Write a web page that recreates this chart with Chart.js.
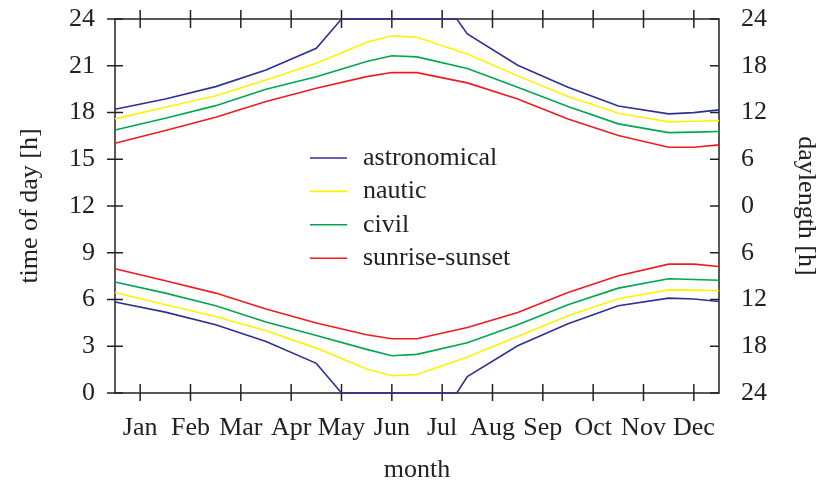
<!DOCTYPE html>
<html>
<head>
<meta charset="utf-8">
<script src="https://cdn.jsdelivr.net/npm/chart.js@4"></script>
<style>
  html, body { margin: 0; padding: 0; background: #fff; }
  #wrap { width: 821px; height: 484px; }
</style>
</head>
<body>
<div id="wrap"><canvas id="twilightChart" width="821" height="484"></canvas></div>
<script>
// month ticks (x = 1..12), samples at mid-month plus the solstices
const monthLabels = ['Jan','Feb','Mar','Apr','May','Jun','Jul','Aug','Sep','Oct','Nov','Dec'];
const rightTickLabels = ['24','18','12','6','0','6','12','18','24'];
const sampleX = [0.5,1.5,2.5,3.5,4.5,5.5,6.0,6.5,7.5,8.5,9.5,10.5,11.5,12.0,12.5];

const sunsetEvening  = [16.03,16.84,17.70,18.70,19.56,20.30,20.57,20.56,19.90,18.87,17.59,16.52,15.77,15.77,15.92];
const sunsetMorning  = [7.97,7.20,6.41,5.39,4.49,3.74,3.48,3.48,4.20,5.17,6.45,7.52,8.27,8.27,8.12];
const civilEvening   = [16.88,17.63,18.44,19.49,20.30,21.27,21.64,21.57,20.82,19.62,18.38,17.27,16.71,16.74,16.78];
const civilMorning   = [7.12,6.41,5.60,4.55,3.69,2.80,2.39,2.48,3.22,4.38,5.66,6.73,7.33,7.28,7.24];
const nauticEvening  = [17.59,18.34,19.08,20.09,21.16,22.51,22.92,22.83,21.76,20.35,19.02,17.95,17.40,17.44,17.48];
const nauticMorning  = [6.45,5.66,4.91,4.00,2.88,1.54,1.11,1.19,2.31,3.63,4.96,6.05,6.62,6.60,6.56];

// astronomical twilight never ends in summer -> runs along 0 / 24
const astroX       = [0.5,1.5,2.5,3.5,4.5,5.0,7.29,7.5,8.5,9.5,10.5,11.5,12.0,12.5];
const astroEvening = [18.21,18.87,19.66,20.73,22.12,24,24,23.04,21.03,19.62,18.42,17.91,17.99,18.17];
const astroMorning = [5.84,5.19,4.38,3.31,1.90,0,0,1.05,3.03,4.44,5.60,6.09,6.03,5.87];

const legendLabels = ['astronomical','nautic','civil','sunrise-sunset'];
const colors = ['#2e3192','#fff200','#00a651','#ed1c24'];

const FONT = 'Liberation Serif';
Chart.defaults.font.family = FONT;
Chart.defaults.font.size = 26;
Chart.defaults.color = '#222';

function pts(xs, ys) { return xs.map((x, i) => ({x: x, y: ys[i]})); }

function line(data, color) {
    return { data: data, borderColor: color, borderWidth: 1.6, pointRadius: 0, fill: false, tension: 0, clip: 4 };
}

const datasets = [
    line(pts(astroX, astroEvening), colors[0]),
    line(pts(astroX, astroMorning), colors[0]),
    line(pts(sampleX, nauticEvening), colors[1]),
    line(pts(sampleX, nauticMorning), colors[1]),
    line(pts(sampleX, civilEvening), colors[2]),
    line(pts(sampleX, civilMorning), colors[2]),
    line(pts(sampleX, sunsetEvening), colors[3]),
    line(pts(sampleX, sunsetMorning), colors[3])
];

// border + gnuplot style ticks, drawn under the lines
const framePlugin = {
    id: 'frame',
    beforeDatasetsDraw(chart) {
        const {ctx, chartArea: a, scales} = chart;
        ctx.save();
        ctx.strokeStyle = '#222';
        ctx.lineWidth = 1.5;
        ctx.strokeRect(a.left, a.top, a.right - a.left, a.bottom - a.top);
        ctx.beginPath();
        scales.x.ticks.forEach(t => {
            const px = scales.x.getPixelForValue(t.value);
            ctx.moveTo(px, a.bottom - 9); ctx.lineTo(px, a.bottom + 8);
            ctx.moveTo(px, a.top - 9); ctx.lineTo(px, a.top + 9);
        });
        scales.y.ticks.forEach(t => {
            const py = scales.y.getPixelForValue(t.value);
            ctx.moveTo(a.left - 8, py); ctx.lineTo(a.left + 8, py);
            ctx.moveTo(a.right - 9, py); ctx.lineTo(a.right, py);
        });
        ctx.stroke();
        ctx.restore();
    },
    afterDatasetsDraw(chart) {
        const ctx = chart.ctx;
        ctx.save();
        ctx.font = '26px "' + FONT + '"';
        ctx.textBaseline = 'middle';
        ctx.fillStyle = '#222';
        ctx.lineWidth = 1.6;
        legendLabels.forEach((lab, i) => {
            const y = 158 + i * 33.4;
            ctx.strokeStyle = colors[i];
            ctx.beginPath();
            ctx.moveTo(310, y); ctx.lineTo(347, y);
            ctx.stroke();
            ctx.fillText(lab, 363, y);
        });
        ctx.restore();
    }
};

function fitVertical(w) {
    return s => { s.width = w; s.paddingTop = 0; s.paddingBottom = 0; };
}

new Chart(document.getElementById('twilightChart'), {
    type: 'line',
    data: { datasets: datasets },
    options: {
        responsive: false,
        animation: false,
        layout: { padding: { top: 19, left: 0, right: 0, bottom: 0 } },
        plugins: { legend: { display: false }, tooltip: { enabled: false } },
        scales: {
            x: {
                type: 'linear', position: 'bottom', min: 0.5, max: 12.5,
                afterBuildTicks: s => { s.ticks = monthLabels.map((m, i) => ({ value: i + 1 })); },
                afterFit: s => { s.height = 91; s.paddingLeft = 0; s.paddingRight = 0; },
                ticks: { callback: v => monthLabels[v - 1], padding: 20, maxRotation: 0, autoSkip: false },
                grid: { display: false, drawTicks: false },
                border: { display: false },
                title: { display: true, text: 'month', padding: { top: 0, bottom: -2 } }
            },
            y: {
                position: 'left', min: 0, max: 24,
                afterFit: fitVertical(115),
                ticks: { stepSize: 3, padding: 20 },
                grid: { display: false, drawTicks: false },
                border: { display: false },
                title: { display: true, text: 'time of day [h]', padding: { top: 15, bottom: 0 } }
            },
            y2: {
                position: 'right', min: 0, max: 24,
                afterFit: fitVertical(102),
                ticks: { stepSize: 3, padding: 22, callback: v => rightTickLabels[v / 3] },
                grid: { display: false, drawTicks: false },
                border: { display: false },
                title: { display: true, text: 'daylength [h]', padding: { top: 0, bottom: 0 } }
            }
        }
    },
    plugins: [framePlugin]
});
</script>
</body>
</html>
